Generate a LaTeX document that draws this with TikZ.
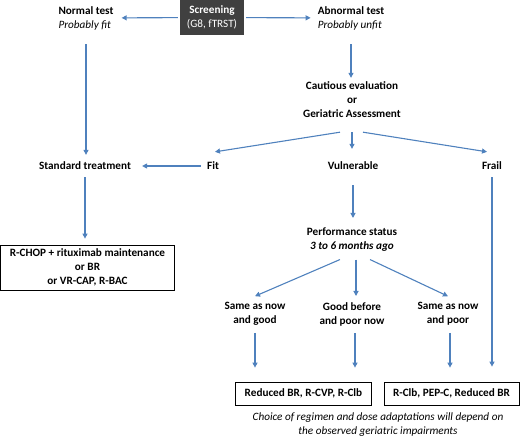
\documentclass[tikz,border=0pt]{standalone}
\usepackage{fontspec}
\setmainfont{Carlito}
\usetikzlibrary{arrows.meta,calc}
\definecolor{flowblue}{RGB}{79,129,189}
\definecolor{screengray}{RGB}{64,64,64}

\begin{document}
\begin{tikzpicture}[x=1pt, y=-1pt,
        every node/.style={font=\fontsize{11.2}{14}\selectfont, inner sep=2pt},
        label/.style={align=center, font=\fontsize{11.2}{14}\selectfont\bfseries},
        result/.style={rectangle, draw, line width=0.8pt, align=center, font=\fontsize{11.2}{14}\selectfont\bfseries},
        flow/.style={draw=flowblue, line width=1.1pt, -{Triangle[length=5pt,width=5pt]}}]
        \useasboundingbox (0,0) rectangle (520,437);

        \node[fill=screengray, text=white, align=center, minimum width=64pt, minimum height=35pt] (screen) at (212,17.5) {\textbf{Screening}\\(G8, fTRST)};
        \node[align=left] (normal) at (86,18) {\textbf{Normal test}\\\textit{Probably fit}};
        \node[align=left] (abnormal) at (351,18) {\textbf{Abnormal test}\\\textit{Probably unfit}};
        \node[label] (cautious) at (352,100) {Cautious evaluation\\or\\Geriatric Assessment};

        \node[label] (std) at (85,166) {Standard treatment};
        \node[label] (fit) at (213,166) {Fit};
        \node[label] (vuln) at (353,166) {Vulnerable};
        \node[label] (frail) at (492,166) {Frail};

        \node[result, minimum width=174pt, minimum height=45pt] (rchop) at (87.5,267.5) {R-CHOP + rituximab maintenance\\or BR\\or VR-CAP, R-BAC};
        \node[label] (perf) at (352,240) {Performance status\\\textit{3 to 6 months ago}};

        \node[label] (good) at (255,314) {Same as now\\and good};
        \node[label] (before) at (352,314) {Good before\\and poor now};
        \node[label] (poor) at (448,314) {Same as now\\and poor};

        \node[result, minimum width=136pt, minimum height=23pt] (reduced) at (303.5,393.5) {Reduced BR, R-CVP, R-Clb};
        \node[result, minimum width=135pt, minimum height=23pt] (clb) at (451.5,393.5) {R-Clb, PEP-C, Reduced BR};
        \node[align=center, font=\fontsize{11.2}{14}\selectfont\itshape] (note) at (378,424.5) {Choice of regimen and dose adaptations will depend on\\the observed geriatric impairments};

        % screening
        \draw[flow, shorten <=2pt, shorten >=6pt] (screen) -- (normal);
        \draw[flow, shorten <=2pt, shorten >=5pt] (screen) -- (abnormal);
        \draw[flow, shorten <=12pt, shorten >=5pt] (normal.south) -- (normal.south |- std.north);
        \draw[flow, shorten <=12pt, shorten >=2pt] (abnormal.south) -- (abnormal.south |- cautious.north);

        % assessment
        \draw[flow] ([xshift=-12pt,yshift=-12pt]cautious.south) -- ([xshift=2pt,yshift=8pt]fit.north);
        \draw[flow] ([yshift=-12pt]cautious.south) -- ([xshift=-1pt,yshift=11pt]vuln.north);
        \draw[flow] ([xshift=11pt,yshift=-12pt]cautious.south) -- ([xshift=-5pt,yshift=8pt]frail.north);
        \draw[flow, shorten <=4pt, shorten >=9pt] (fit.west) -- (std.east);
        \draw[flow, shorten <=5pt, shorten >=6pt] (std.south) -- (std.south |- rchop.north);
        \draw[flow, shorten <=13pt, shorten >=8pt] (vuln.south) -- (vuln.south |- perf.north);
        \draw[flow, shorten <=5pt, shorten >=15pt] (frail.south) -- (frail.south |- clb.north);

        % performance status
        \draw[flow] ([xshift=-12pt,yshift=-5.5pt]perf.south) -- ([yshift=4pt]good.north);
        \draw[flow] ([xshift=4pt,yshift=-5.5pt]perf.south) -- ([xshift=4pt,yshift=4pt]before.north);
        \draw[flow] ([xshift=18pt,yshift=-5.5pt]perf.south) -- ([yshift=4pt]poor.north);
        \draw[flow, shorten <=5pt, shorten >=14pt] (good.south) -- (good.south |- reduced.north);
        \draw[flow, shorten <=5pt, shorten >=14pt] ([xshift=3pt]before.south) -- ([xshift=3pt]before.south |- reduced.north);
        \draw[flow, shorten <=5pt, shorten >=14pt] ([xshift=2pt]poor.south) -- ([xshift=2pt]poor.south |- clb.north);
    \end{tikzpicture}
\end{document}
